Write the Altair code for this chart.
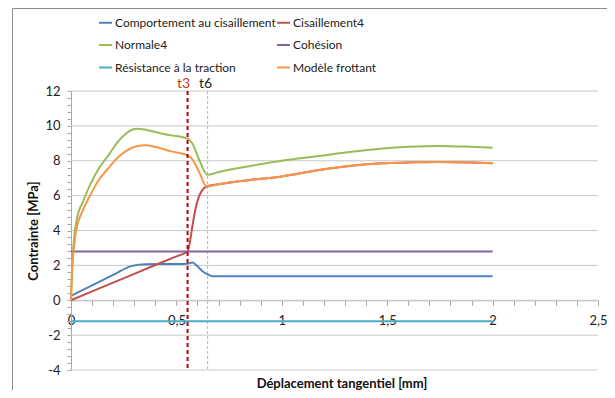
import altair as alt
import pandas as pd

# ---------------- data ----------------
series_names = ["Comportement au cisaillement", "Cisaillement4", "Normale4",
                "Cohésion", "Résistance à la traction", "Modèle frottant"]
series_colors = ["#4F81BD", "#C0504D", "#9BBB59", "#8064A2", "#4BACC6", "#F79646"]

comport_x = [0, 0.1, 0.2, 0.29, 0.355, 0.45, 0.553, 0.576, 0.6, 0.625, 0.648, 0.671, 1.0, 1.5, 2.0]
comport_y = [0.25, 0.85, 1.45, 1.97, 2.06, 2.08, 2.1, 2.16, 1.95, 1.65, 1.49, 1.38, 1.38, 1.38, 1.38]

cis4_x = [0, 0.2, 0.4, 0.5, 0.553, 0.565, 0.576, 0.59, 0.608, 0.625, 0.643, 0.7, 0.85, 1.0, 1.177, 1.32, 1.477, 1.6, 1.745, 1.9, 2.0]
cis4_y = [0, 1.01, 2.02, 2.52, 2.79, 3.4, 4.26, 5.2, 5.98, 6.35, 6.52, 6.65, 6.9, 7.1, 7.47, 7.7, 7.86, 7.9, 7.93, 7.9, 7.86]

norm4_x = [0, 0.005, 0.015, 0.03, 0.055, 0.09, 0.134, 0.18, 0.213, 0.26, 0.3, 0.316, 0.36, 0.45,
           0.553, 0.575, 0.61, 0.648, 0.7, 0.85, 1.0, 1.177, 1.32, 1.477, 1.6, 1.745, 1.9, 2.0]
norm4_y = [0, 1.8, 3.6, 4.8, 5.6, 6.6, 7.6, 8.35, 8.94, 9.55, 9.82, 9.84, 9.76, 9.5,
           9.27, 9.0, 8.0, 7.19, 7.35, 7.7, 8.0, 8.27, 8.5, 8.7, 8.8, 8.85, 8.8, 8.75]

cohesion_x = [0, 2.0]
cohesion_y = [2.8, 2.8]

traction_x = [0, 2.0]
traction_y = [-1.2, -1.2]

frott_x = [0, 0.005, 0.015, 0.03, 0.055, 0.09, 0.134, 0.18, 0.213, 0.26, 0.31, 0.355, 0.4, 0.47,
           0.553, 0.576, 0.61, 0.643, 0.7, 0.85, 1.0, 1.177, 1.32, 1.477, 1.6, 1.745, 1.9, 2.0]
frott_y = [0, 1.6, 3.2, 4.3, 5.12, 6.0, 6.94, 7.6, 8.08, 8.55, 8.83, 8.89, 8.8, 8.55,
           8.31, 8.08, 7.3, 6.52, 6.65, 6.9, 7.1, 7.47, 7.7, 7.86, 7.9, 7.93, 7.9, 7.86]

# legend is filled column by column (3 rows x 2 columns)
legend_order = ["Comportement au cisaillement", "Normale4", "Résistance à la traction",
                "Cisaillement4", "Cohésion", "Modèle frottant"]

marker_names = ["t3", "t6"]
marker_x = [0.553, 0.648]

grid_values = [-4, -2, 0, 2, 4, 6, 8, 10, 12]
x_tick_values = [round(i * 0.1, 1) for i in range(26)]
y_tick_values = [round(-4 + i * 0.4, 1) for i in range(41)]

# ---------------- build table ----------------
all_x = [comport_x, cis4_x, norm4_x, cohesion_x, traction_x, frott_x]
all_y = [comport_y, cis4_y, norm4_y, cohesion_y, traction_y, frott_y]
rows = []
for name, xs, ys in zip(series_names, all_x, all_y):
    for i, (xv, yv) in enumerate(zip(xs, ys)):
        rows.append({"x": xv, "y": yv, "serie": name, "i": i})
df = pd.DataFrame(rows)

color_map = dict(zip(series_names, series_colors))

FONT = "Lato"
W, H = 527, 279

xscale = alt.Scale(domain=[0, 2.5], nice=False, zero=False)
yscale = alt.Scale(domain=[-4, 12], nice=False, zero=False)

x_label_expr = ("abs(datum.value*2 - round(datum.value*2)) < 0.001 ? "
                "replace(toString(round(datum.value*10)/10), '.', ',') : ''")
y_label_expr = "abs(datum.value/2 - round(datum.value/2)) < 0.01 ? toString(round(datum.value)) : ''"

x_axis = alt.Axis(values=x_tick_values, labelExpr=x_label_expr, offset=-H * 4 / 16,
                  grid=False, domainColor="#A6A6A6", tickColor="#A6A6A6", tickSize=5,
                  labelPadding=9, labelFont=FONT, labelFontSize=13, labelColor="#222222",
                  labelFlush=False, labelOverlap=False,
                  title="Déplacement tangentiel [mm]", titleFont=FONT, titleFontSize=13,
                  titleFontWeight="bold", titleColor="#111111", titleY=83,
                  titleBaseline="middle", titleAnchor="middle", titleX=W / 2 + 7)
y_axis = alt.Axis(values=y_tick_values, labelExpr=y_label_expr, grid=False,
                  domainColor="#A6A6A6", tickColor="#A6A6A6", tickSize=4, labelPadding=7,
                  labelFont=FONT, labelFontSize=13, labelColor="#222222",
                  labelOverlap=False, labelFlush=False,
                  title="Contrainte [MPa]", titleFont=FONT, titleFontSize=13,
                  titleFontWeight="bold", titleColor="#111111", titleAngle=-90,
                  titleX=-38, titleY=H / 2, titleAlign="center", titleBaseline="middle")

grid = alt.Chart(pd.DataFrame({"g": grid_values})).mark_rule(
    color="#C8C8C8", strokeWidth=1
).encode(y=alt.Y("g:Q", scale=yscale, axis=y_axis))

lines = alt.Chart(df).mark_line(strokeWidth=2, interpolate="monotone").encode(
    x=alt.X("x:Q", scale=xscale, axis=x_axis),
    y=alt.Y("y:Q", scale=yscale, axis=y_axis),
    color=alt.Color("serie:N", sort=legend_order,
                    scale=alt.Scale(domain=legend_order,
                                    range=[color_map[n] for n in legend_order]),
                    legend=alt.Legend(title=None, orient="none", legendX=27, legendY=-76,
                                      columns=2, symbolType="stroke", symbolStrokeWidth=2,
                                      symbolSize=169, labelFont=FONT, labelFontSize=12,
                                      labelColor="#222222", rowPadding=8.5, columnPadding=-5,
                                      labelOffset=2, padding=0, labelLimit=400)),
    order=alt.Order("i:Q"),
)

mk = pd.DataFrame({"name": marker_names, "x": marker_x})
t3_line = alt.Chart(mk[mk.name == "t3"]).mark_rule(
    color="#C00000", strokeWidth=2, strokeDash=[4, 3]
).encode(x=alt.X("x:Q", scale=xscale, axis=x_axis))
t6_line = alt.Chart(mk[mk.name == "t6"]).mark_rule(
    color="#F2A0A0", strokeWidth=1, strokeDash=[3, 2]
).encode(x=alt.X("x:Q", scale=xscale, axis=x_axis))
t3_text = alt.Chart(mk[mk.name == "t3"]).mark_text(
    font=FONT, fontSize=14, color="#C0392B", dx=-4, baseline="middle"
).encode(x=alt.X("x:Q", scale=xscale, axis=x_axis), y=alt.value(-7), text="name:N")
t6_text = alt.Chart(mk[mk.name == "t6"]).mark_text(
    font=FONT, fontSize=14, color="#222222", dx=-2, baseline="middle"
).encode(x=alt.X("x:Q", scale=xscale, axis=x_axis), y=alt.value(-7), text="name:N")

one = pd.DataFrame({"a": [0]})
frame_left = alt.Chart(one).mark_rule(color="#8C8C8C", strokeWidth=1).encode(
    x=alt.value(-58.5), y=alt.value(-82.5), y2=alt.value(300))
frame_top = alt.Chart(one).mark_rule(color="#8C8C8C", strokeWidth=1).encode(
    x=alt.value(-58.5), x2=alt.value(536), y=alt.value(-82.5))

chart = alt.layer(grid, t6_line, lines, t3_line, t3_text, t6_text, frame_left, frame_top).properties(
    width=W, height=H,
    autosize=alt.AutoSizeParams(type="none"),
    padding={"left": 63, "top": 83, "right": 9, "bottom": 20},
    background="white",
).configure_view(stroke=None)

chart.save("out.html", embed_options={"renderer": "svg", "actions": False})
